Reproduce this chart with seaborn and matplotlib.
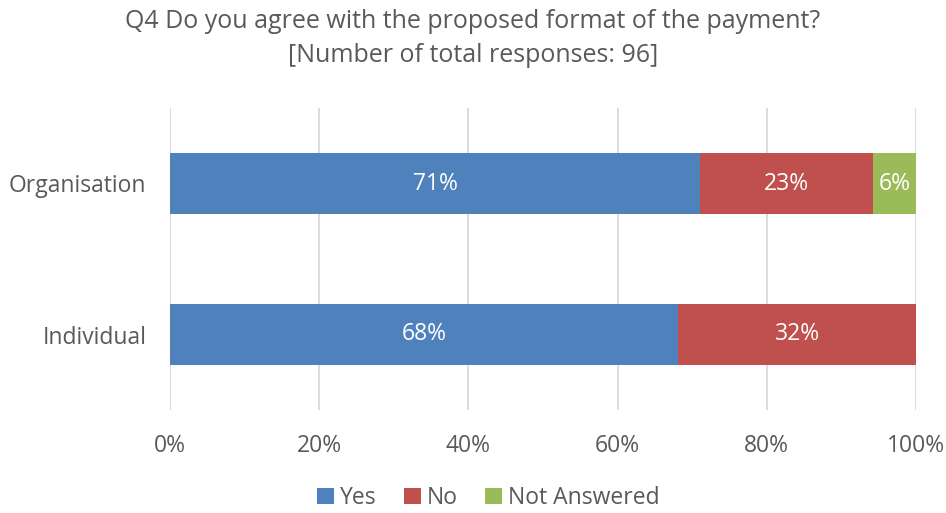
import matplotlib
matplotlib.use("Agg")
import matplotlib.pyplot as plt
import seaborn as sns
import pandas as pd
import numpy as np

# Survey results (share of responses, %)
groups = ["Organisation", "Individual"]
yes = [71.1, 68.1]
no = [23.1, 31.9]
not_answered = [5.8, 0.0]
series_names = ["Yes", "No", "Not Answered"]
colors = ["#4F81BD", "#C0504D", "#9BBB59"]
xticks = [0, 20, 40, 60, 80, 100]

sns.set_theme(style="white")
plt.rcParams["font.family"] = ["Open Sans", "DejaVu Sans"]
text_color = "#595959"

fig = plt.figure(figsize=(9.46, 5.13), dpi=100)
ax = fig.add_axes([170 / 946, 1 - 410 / 513, 746 / 946, 302 / 513])

values = [yes, no, not_answered]
cum = np.zeros(len(groups))
lefts = []
for v in values:
    lefts.append(cum.copy())
    cum = cum + np.array(v)

df_rows = []
for name, v, left in zip(series_names, values, lefts):
    for g, val, l in zip(groups, v, left):
        df_rows.append({"group": g, "series": name, "value": val, "left": l})
df = pd.DataFrame(df_rows)

# Each series is drawn as one layer, offset by the running total
for name, color in zip(series_names, colors):
    sub = df[df["series"] == name]
    sns.barplot(data=sub, x="value", y="group", left=sub["left"].values,
                color=color, orient="h", width=0.4, ax=ax, label=name,
                saturation=1, linewidth=0)

for cont, v in zip(ax.containers, values):
    labels = [f"{round(x):.0f}%" if x > 0 else "" for x in v]
    ax.bar_label(cont, labels=labels, label_type="center", color="white",
                 fontsize=16.5)

ax.set_xlim(0, 100)
ax.set_ylim(1.5, -0.5)
ax.set_xticks(xticks)
ax.set_xticklabels([f"{t}%" for t in xticks], fontsize=16.5, color=text_color)
ax.tick_params(axis="y", labelsize=16.5, labelcolor=text_color, pad=17)
ax.tick_params(axis="x", pad=17)
ax.tick_params(length=0)
ax.set_xlabel("")
ax.set_ylabel("")
ax.xaxis.grid(True, color="#D9D9D9", linewidth=1.3)
ax.set_axisbelow(True)
for s in ax.spines.values():
    s.set_visible(False)

fig.text(0.5, 1 - 22 / 513, "Q4 Do you agree with the proposed format of the payment?",
         ha="center", va="center", fontsize=18, color=text_color)
fig.text(0.5, 1 - 56 / 513, "[Number of total responses: 96]",
         ha="center", va="center", fontsize=18, color=text_color)

handles, labs = ax.get_legend_handles_labels()
leg = fig.legend(handles, labs, loc="center", bbox_to_anchor=(0.516, 1 - 498 / 513),
                 ncol=3, frameon=False, fontsize=16.5, handlelength=0.75,
                 handleheight=0.75, handletextpad=0.25, columnspacing=1.2,
                 labelcolor=text_color)
if ax.get_legend():
    ax.get_legend().remove()

fig.savefig("out.png", dpi=100)
